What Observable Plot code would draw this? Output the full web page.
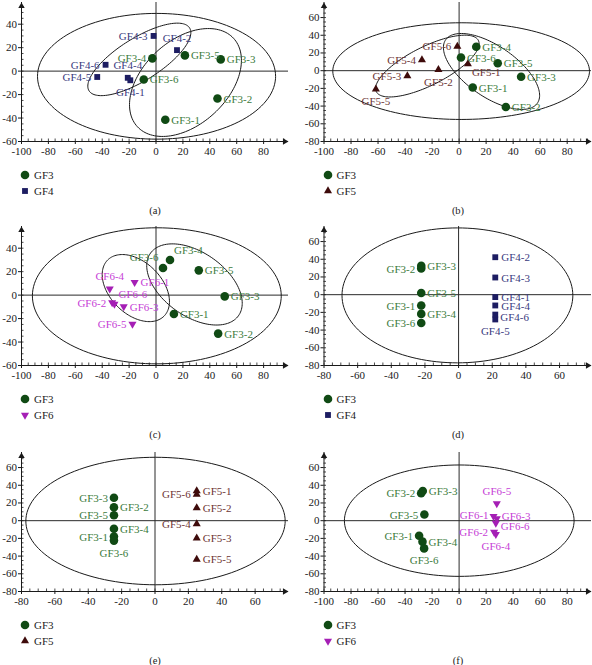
<!DOCTYPE html>
<html><head><meta charset="utf-8">
<script src="https://cdn.jsdelivr.net/npm/d3@7"></script>
<script src="https://cdn.jsdelivr.net/npm/@observablehq/plot@0.6"></script>
<style>
body{margin:0;background:#fff;color:#222;}
#root{position:relative;width:592px;height:665px;overflow:hidden;font-family:"Liberation Serif","Times New Roman",serif;}
.panel{position:absolute;width:296px;height:225px;}
.panel svg{position:absolute;left:0;top:0;overflow:visible;}
.leg{position:absolute;font-size:11px;line-height:14px;height:14px;color:#222;white-space:nowrap;}
.leg svg{position:absolute;left:0;top:0;}
.cap{position:absolute;font-size:10.5px;line-height:14px;color:#222;transform:translateX(-50%);}
</style></head><body><div id="root"></div>
<script>
// ---------- names ----------
const namesGF3 = ["GF3-1","GF3-2","GF3-3","GF3-4","GF3-5","GF3-6"];
const namesGF4 = ["GF4-1","GF4-2","GF4-3","GF4-4","GF4-5","GF4-6"];
const namesGF5 = ["GF5-1","GF5-2","GF5-3","GF5-4","GF5-5","GF5-6"];
const namesGF6 = ["GF6-1","GF6-2","GF6-3","GF6-4","GF6-5","GF6-6"];

// ---------- panel (a): GF3 vs GF4 ----------
const aGF3x = [6.9, 45.7, 48.1, -2.7, 21.5, -9.1];
const aGF3y = [-41.4, -23.4, 10.0, 10.9, 13.4, -7.1];
const aGF4x = [-19.1, 15.6, -1.8, -21.0, -43.7, -37.5];
const aGF4y = [-7.8, 17.9, 30.0, -5.7, -5.0, 5.4];
const aGF3lab = ["r","r","r","l","r","r"];
const aGF4lab = ["b","t","l","t","l","l"];
const aEll = [
  {cx: 0.4, cy: -4.4, W: 88.5, H: 53.6, k: 0},
  {cx: 21.9, cy: -9.7, W: 41.6, H: 46.0, k: 18.9},
  {cx: -12.4, cy: 10.0, W: 38.3, H: 30.9, k: 22.8}
];

// ---------- panel (b): GF3 vs GF5 ----------
const bGF3x = [10.1, 34.6, 45.9, 12.7, 28.6, 1.4];
const bGF3y = [-19.0, -41.1, -6.9, 27.0, 8.4, 14.8];
const bGF5x = [6.5, -15.3, -38.3, -27.5, -61.6, -1.3];
const bGF5y = [7.6, 1.0, -5.9, 12.2, -21.0, 27.4];
const bGF3lab = ["r","r","r","r","r","r"];
const bGF5lab = ["br","b","l","l","b","l"];
const bEll = [
  {cx: 1.5, cy: -0.5, W: 95.0, H: 54.6, k: 0},
  {cx: -23.5, cy: 5.2, W: 38.3, H: 34.9, k: 25.3},
  {cx: 24.0, cy: -0.9, W: 35.6, H: 42.9, k: -27.0}
];

// ---------- panel (c): GF3 vs GF6 ----------
const cGF3x = [13.3, 46.2, 51.1, 10.4, 31.8, 5.2];
const cGF3y = [-16.1, -32.8, -1.1, 30.0, 21.1, 23.1];
const cGF6x = [-15.9, -32.6, -24.0, -34.4, -17.5, -30.9];
const cGF6y = [10.9, -6.3, -9.7, 5.4, -24.6, -7.7];
const cGF3lab = ["r","r","r","tr","r","tl"];
const cGF6lab = ["r","l","r","t","l","tr"];
const cEll = [
  {cx: 0.6, cy: -0.6, W: 92.5, H: 58.0, k: 0},
  {cx: -15.0, cy: 6.0, W: 25.0, H: 28.6, k: -11.5},
  {cx: 28.6, cy: 9.1, W: 35.5, H: 34.6, k: -16.0}
];

// ---------- panel (d): GF3 vs GF4 ----------
const dGF3x = [-22.2, -22.2, -22.2, -22.2, -22.2, -22.2];
const dGF3y = [-12.2, 29.5, 32.5, -21.7, 1.9, -32.0];
const dGF4x = [21.8, 21.8, 21.8, 21.8, 21.8, 21.8];
const dGF4y = [-2.7, 42.3, 19.4, -12.2, -28.0, -22.5];
const dGF3lab = ["l","l","r","r","r","l"];
const dGF4lab = ["r","r","r","r","b","rd"];
const dEll = [{cx: -0.7, cy: -0.8, W: 68.6, H: 76.2, k: 0}];

// ---------- panel (e): GF3 vs GF5 ----------
const eGF3x = [-24.6, -24.6, -24.6, -24.6, -24.6, -24.6];
const eGF3y = [-17.9, 15.2, 25.9, -9.1, 6.1, -22.5];
const eGF5x = [25.0, 25.0, 25.0, 25.0, 25.0, 25.0];
const eGF5y = [33.5, 14.5, -19.8, -3.8, -43.8, 29.7];
const eGF3lab = ["l","r","l","r","l","b"];
const eGF5lab = ["r","r","r","l","r","l"];
const eEll = [{cx: 0.3, cy: -0.4, W: 77.7, H: 72.0, k: 0}];

// ---------- panel (f): GF3 vs GF6 ----------
const fGF3x = [-29.6, -28.1, -26.9, -27.1, -25.7, -25.9];
const fGF3y = [-17.1, 30.9, 33.5, -23.7, 6.9, -31.3];
const fGF6x = [25.5, 25.9, 27.9, 27.2, 27.9, 27.2];
const fGF6y = [4.9, -13.0, 2.3, -15.3, 19.4, -2.7];
const fGF3lab = ["l","l","r","r","l","b"];
const fGF6lab = ["lu","l","ru","b","t","rd"];
const fEll = [{cx: 0.1, cy: 0.0, W: 85.0, H: 62.9, k: 0}];

// ---------- axes ----------
const xTicks100 = [-100,-80,-60,-40,-20,0,20,40,60,80];
const xTicks80 = [-80,-60,-40,-20,0,20,40,60];
const yTicks60 = [-60,-40,-20,0,20,40];
const yTicks80 = [-80,-60,-40,-20,0,20,40,60];
const captions = ["(a)","(b)","(c)","(d)","(e)","(f)"];

// ---------- styles ----------
const STYLE = {
  GF3: {symbol: "circle", r: 4.3, fill: "#104a14", text: "#3c7b3c", rotate: 0, d3sym: d3.symbolCircle},
  GF4: {symbol: "square", r: 3.3, fill: "#1d1d62", text: "#3a3a80", rotate: 0, d3sym: d3.symbolSquare},
  GF5: {symbol: "triangle", r: 3.0, fill: "#3e0b0b", text: "#6d3434", rotate: 0, d3sym: d3.symbolTriangle},
  GF6: {symbol: "triangle", r: 3.0, fill: "#a51fb5", text: "#c63ed6", rotate: 180, d3sym: d3.symbolTriangle}
};
const OFF = {
  r: {dx: 6, dy: 0.5, anchor: "start"},
  ru: {dx: 5, dy: -2.5, anchor: "start"},
  rd: {dx: 5, dy: 3, anchor: "start"},
  l: {dx: -6, dy: 0.5, anchor: "end"},
  lu: {dx: -5, dy: -1, anchor: "end"},
  t: {dx: 0, dy: -12, anchor: "middle"},
  b: {dx: 0, dy: 12.5, anchor: "middle"},
  tl: {dx: -4.5, dy: -10.5, anchor: "end"},
  tr: {dx: 4, dy: -9.5, anchor: "start"},
  br: {dx: 4, dy: 8.5, anchor: "start"}
};

function ellipsePts(e) {
  const n = 140, s = Math.sqrt(e.H * e.H - e.k * e.k);
  return d3.range(n).map(i => {
    const t = 2 * Math.PI * i / n;
    return {x: e.cx + e.W * Math.cos(t), y: e.cy + e.k * Math.cos(t) + s * Math.sin(t)};
  });
}

function group(key, names, xs, ys, labs) {
  return {key, rows: names.map((n, i) => ({name: n, x: xs[i], y: ys[i], lab: labs[i]}))};
}

const panels = [
  {xd: [-100, 98.5], yd: [-60, 58.5], xt: xTicks100, yt: yTicks60, col: 0, row: 0, ell: aEll,
   groups: [group("GF3", namesGF3, aGF3x, aGF3y, aGF3lab), group("GF4", namesGF4, aGF4x, aGF4y, aGF4lab)]},
  {xd: [-100, 98], yd: [-80, 77], xt: xTicks100, yt: yTicks80, col: 1, row: 0, ell: bEll,
   groups: [group("GF3", namesGF3, bGF3x, bGF3y, bGF3lab), group("GF5", namesGF5, bGF5x, bGF5y, bGF5lab)]},
  {xd: [-100, 98.5], yd: [-60, 58.5], xt: xTicks100, yt: yTicks60, col: 0, row: 1, ell: cEll,
   groups: [group("GF3", namesGF3, cGF3x, cGF3y, cGF3lab), group("GF6", namesGF6, cGF6x, cGF6y, cGF6lab)]},
  {xd: [-80, 79], yd: [-80, 77], xt: xTicks80, yt: yTicks80, col: 1, row: 1, ell: dEll,
   groups: [group("GF3", namesGF3, dGF3x, dGF3y, dGF3lab), group("GF4", namesGF4, dGF4x, dGF4y, dGF4lab)]},
  {xd: [-80, 80], yd: [-80, 77], xt: xTicks80, yt: yTicks80, col: 0, row: 2, ell: eEll,
   groups: [group("GF3", namesGF3, eGF3x, eGF3y, eGF3lab), group("GF5", namesGF5, eGF5x, eGF5y, eGF5lab)]},
  {xd: [-100, 98], yd: [-80, 77], xt: xTicks100, yt: yTicks80, col: 1, row: 2, ell: fEll,
   groups: [group("GF3", namesGF3, fGF3x, fGF3y, fGF3lab), group("GF6", namesGF6, fGF6x, fGF6y, fGF6lab)]}
];

const rowTops = [0, 224, 449.5];
const root = document.getElementById("root");

panels.forEach((p, idx) => {
  const ml = p.col === 0 ? 21 : 27.5;
  const mr = p.col === 0 ? 8 : 1;
  const ink = "#1a1a1a";
  const minorX = d3.range(Math.ceil(p.xd[0] / 5) * 5, p.xd[1] - 2, 5);
  const minorY = d3.range(Math.ceil(p.yd[0] / 5) * 5, p.yd[1] - 2, 5);
  const marks = [
    Plot.ruleY([0], {stroke: "#2a2a2a", strokeWidth: 1}),
    Plot.ruleX([0], {stroke: "#2a2a2a", strokeWidth: 1}),
    ...p.ell.map(e => Plot.line(ellipsePts(e), {x: "x", y: "y", stroke: ink, strokeWidth: 1, curve: "linear-closed"})),
    Plot.ruleX([p.xd[0]], {stroke: ink, strokeWidth: 1}),
    Plot.ruleY([p.yd[0]], {stroke: ink, strokeWidth: 1}),
    Plot.ruleX(minorX, {x: d => d, y1: p.yd[0], y2: p.yd[0], insetTop: -2.5, stroke: ink, strokeWidth: 0.8}),
    Plot.ruleY(minorY, {y: d => d, x1: p.xd[0], x2: p.xd[0], insetRight: -2.5, stroke: ink, strokeWidth: 0.8}),
    Plot.axisX({ticks: p.xt, anchor: "bottom", tickSize: 3, tickPadding: 3, tickFormat: d => String(d), label: null, fontSize: 11}),
    Plot.axisY({ticks: p.yt, anchor: "left", tickSize: 3, tickPadding: 1.5, tickFormat: d => String(d), label: null, fontSize: 11}),
    Plot.dot([0], {x: p.xd[0], y: p.yd[1], symbol: "triangle", r: 2.4, fill: ink, dy: 3.7}),
    Plot.dot([0], {x: p.xd[1], y: p.yd[0], symbol: "triangle", r: 2.4, fill: ink, dx: -3.7, rotate: 90})
  ];
  for (const g of p.groups) {
    const st = STYLE[g.key];
    marks.push(Plot.dot(g.rows, {x: "x", y: "y", symbol: st.symbol, r: st.r, fill: st.fill, rotate: st.rotate}));
  }
  for (const g of p.groups) {
    const st = STYLE[g.key];
    for (const code of Object.keys(OFF)) {
      const rows = g.rows.filter(d => d.lab === code);
      if (!rows.length) continue;
      const o = OFF[code];
      marks.push(Plot.text(rows, {x: "x", y: "y", text: "name", fill: st.text, dx: o.dx, dy: o.dy, textAnchor: o.anchor, fontSize: 11}));
    }
  }
  const svg = Plot.plot({
    width: 296, height: 165,
    marginLeft: ml, marginRight: mr, marginTop: 2, marginBottom: 24,
    x: {domain: p.xd}, y: {domain: p.yd},
    style: {fontFamily: "'Liberation Serif', 'Times New Roman', serif", fontSize: "11px", background: "transparent", color: "#1a1a1a", overflow: "visible"},
    marks
  });
  const div = document.createElement("div");
  div.className = "panel";
  div.style.left = (p.col * 296) + "px";
  div.style.top = rowTops[p.row] + "px";
  div.appendChild(svg);

  // legend
  const mx = p.col === 0 ? 25 : 31.5;
  p.groups.forEach((g, gi) => {
    const st = STYLE[g.key];
    const cy = 175 + gi * 16;
    const item = document.createElement("div");
    item.className = "leg";
    item.style.left = (mx - 6) + "px";
    item.style.top = (cy - 7) + "px";
    item.style.paddingLeft = "15px";
    const ns = "http://www.w3.org/2000/svg";
    const s = document.createElementNS(ns, "svg");
    s.setAttribute("width", 12); s.setAttribute("height", 14);
    const path = document.createElementNS(ns, "path");
    const size = st.r * st.r * Math.PI;
    path.setAttribute("d", d3.symbol(st.d3sym, size)());
    path.setAttribute("fill", st.fill);
    path.setAttribute("transform", `translate(6,7) rotate(${st.rotate})`);
    s.appendChild(path);
    item.appendChild(s);
    item.appendChild(document.createTextNode(g.key));
    div.appendChild(item);
  });
  const cap = document.createElement("div");
  cap.className = "cap";
  cap.style.left = (p.col === 0 ? 155 : 162) + "px";
  cap.style.top = (211 - 7) + "px";
  cap.textContent = captions[idx];
  div.appendChild(cap);
  root.appendChild(div);
});
</script>
</body></html>
